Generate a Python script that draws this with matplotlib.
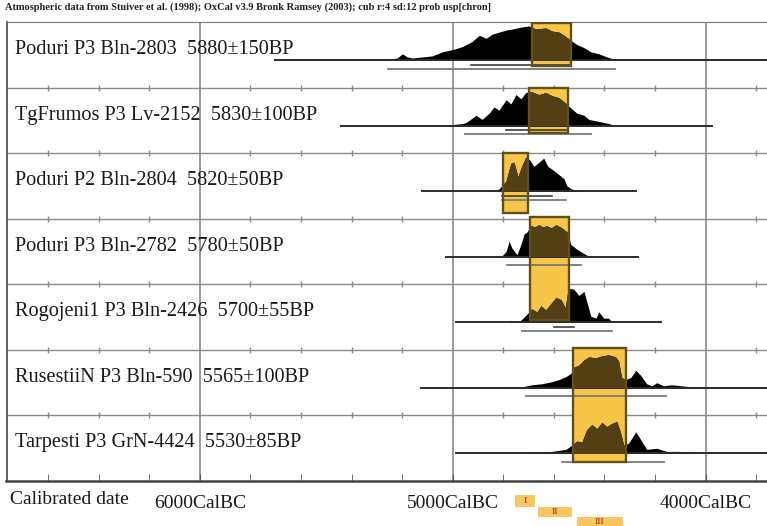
import matplotlib
matplotlib.use("Agg")
import matplotlib.pyplot as plt
from matplotlib.patches import Rectangle
from matplotlib.ticker import MultipleLocator

plt.rcParams['font.family'] = ['Liberation Serif', 'DejaVu Serif']

title = ("Atmospheric data from Stuiver et al. (1998); OxCal v3.9 Bronk Ramsey (2003); "
         "cub r:4 sd:12 prob usp[chron]")

labels = [
    "Poduri P3 Bln-2803  5880\u00b1150BP",
    "TgFrumos P3 Lv-2152  5830\u00b1100BP",
    "Poduri P2 Bln-2804  5820\u00b150BP",
    "Poduri P3 Bln-2782  5780\u00b150BP",
    "Rogojeni1 P3 Bln-2426  5700\u00b155BP",
    "RusestiiN P3 Bln-590  5565\u00b1100BP",
    "Tarpesti P3 GrN-4424  5530\u00b185BP",
]

# calibrated distributions, years BC and relative probability
yrs1 = [5302, 5250, 5220, 5199, 5180, 5160, 5120, 5081, 5041, 5002, 4962, 4923, 4895, 4868, 4844, 4817,
        4789, 4765, 4726, 4698, 4671, 4631, 4607, 4580, 4560, 4533, 4509, 4481, 4454, 4422, 4390, 4351]
p1 = [0, 1, 2, 6, 3, 2, 3, 4, 8, 10, 13, 18, 24, 21, 25, 27,
      29, 30, 32, 33, 30, 31, 28, 27, 24, 19, 15, 12, 8, 6, 3, 0]

yrs2 = [5200, 5190, 5081, 5002, 4960, 4947, 4908, 4884, 4856, 4837, 4817, 4789, 4770, 4750, 4730,
        4711, 4691, 4659, 4632, 4608, 4580, 4560, 4533, 4509, 4481, 4462, 4422, 4383, 4356]
p2 = [0, 1, 0.5, 1, 2, 3, 10, 6, 12, 18, 15, 25, 21, 30, 26,
      32, 33, 30, 32, 29, 27, 23, 17, 12, 10, 6, 4, 2, 0]

yrs3 = [4870, 4856, 4817, 4789, 4770, 4758, 4742, 4726, 4711, 4695, 4679, 4659, 4640, 4624, 4600,
        4580, 4560, 4548, 4529, 4501, 4481]
p3 = [0, 0.5, 2, 10, 27, 28, 14, 25, 33, 30, 24, 28, 32, 24, 20,
      16, 12, 5, 2, 0.5, 0]

yrs4 = [4809, 4789, 4777, 4765, 4746, 4730, 4718, 4706, 4691, 4675, 4659, 4644, 4628, 4610, 4592,
        4568, 4548, 4533, 4513, 4493, 4474, 4454]
p4 = [0, 5, 15, 8, 2, 12, 22, 24, 30, 29, 31, 29, 30, 28, 31,
      28, 24, 12, 8, 5, 2, 0]

yrs5 = [4780, 4770, 4760, 4740, 4726, 4706, 4687, 4667, 4651, 4632, 4612, 4592, 4572, 4555, 4545,
        4535, 4521, 4501, 4481, 4470, 4454, 4434, 4422, 4403, 4383, 4371]
p5 = [0, 2, 0, 0.5, 3, 8, 13, 10, 16, 12, 18, 24, 22, 14, 30,
      33, 32, 26, 30, 20, 6, 4, 10, 4, 4, 0]

yrs6 = [4810, 4726, 4687, 4647, 4608, 4580, 4552, 4533, 4521, 4501, 4481, 4462, 4434, 4410, 4383,
        4356, 4344, 4332, 4316, 4296, 4276, 4256, 4233, 4213, 4193, 4166, 4134, 4095, 4055, 4027]
p6 = [0.5, 1, 3, 4, 6, 8, 11, 14, 20, 22, 27, 30, 29, 31, 32,
      30, 26, 10, 8, 10, 17, 12, 4, 2, 5, 2, 3, 2, 1, 0]

yrs7 = [4700, 4687, 4608, 4552, 4529, 4509, 4489, 4470, 4450, 4430, 4410, 4391, 4371, 4351, 4336,
        4324, 4304, 4276, 4253, 4233, 4193, 4154, 4107, 4055, 4027]
p7 = [0, 1, 2, 4, 8, 12, 11, 23, 28, 24, 30, 26, 29, 31, 20,
      8, 10, 21, 12, 4, 5, 2, 2, 1, 0]

years = [yrs1, yrs2, yrs3, yrs4, yrs5, yrs6, yrs7]
probs = [p1, p2, p3, p4, p5, p6, p7]

# full extent lines and probability ranges (years BC)
line_from = [5704, 5440, 5120, 5026, 4986, 5124, 4986]
line_to = [3700, 3976, 4276, 4268, 4177, 3700, 3700]
range2_from = [5258, 4951, 4805, 4785, 4726, 4710, 4568]
range2_to = [4359, 4454, 4552, 4493, 4371, 4158, 4166]
range1_from = [4927, 4789, 4805, None, 4600, None, None]
range1_to = [4540, 4552, 4608, None, 4521, None, None]

# highlighted intervals (years BC) and the rows they cover
box_from = [4685, 4697, 4803, 4693, 4523]
box_to = [4534, 4546, 4701, 4542, 4313]
box_top = [6.98, 6.0, 5.0, 4.03, 2.03]
box_bottom = [6.33, 5.31, 4.09, 2.46, 0.29]

tick_labels = ["6000CalBC", "5000CalBC", "4000CalBC"]
tick_years = [6000, 5000, 4000]

fig = plt.figure(figsize=(7.67, 5.26), dpi=100)
ax = fig.add_axes([6.5 / 767, 1 - 481 / 526, 761 / 767, 459 / 526])
ax.set_xlim(6765, 3755)
ax.set_ylim(0, 7)

grey = '#8a8a8a'
brown_dark = '#523f14'
n = len(labels)
base_off = 0.42
scale = 0.52 / 33

for yv in tick_years:
    ax.axvline(yv, color=grey, lw=1.2, zorder=1)
minor = [y for y in range(6600, 3700, -200) if y not in tick_years]
for k in range(1, n):
    ax.axhline(k, color=grey, lw=1.0, zorder=1)
    ax.plot(minor, [k] * len(minor), '|', ms=5, color=grey, mew=1, zorder=1)

boxes = []
for b0, b1, bt, bb in zip(box_from, box_to, box_top, box_bottom):
    r = Rectangle((b1, bb), b0 - b1, bt - bb, facecolor='#f7c548', edgecolor='none', zorder=2)
    ax.add_patch(r)
    boxes.append(r)

for i in range(n):
    base = n - 1 - i + base_off
    ax.text(0.011, n - 1 - i + 0.58, labels[i], transform=ax.get_yaxis_transform(),
            fontsize=14.6, color='#1a1a1a', va='center', ha='left', zorder=6)
    top = [base + v * scale for v in probs[i]]
    ax.fill_between(years[i], base, top, color='black', lw=0, zorder=3)
    for r in boxes:
        dark = ax.fill_between(years[i], base, top, color=brown_dark, lw=0, zorder=4)
        dark.set_clip_path(r)
    ax.plot([line_from[i], line_to[i]], [base, base], color='#2b2b2b', lw=1.4, zorder=3)
    ax.plot([range2_from[i], range2_to[i]], [base - 0.13] * 2, color='#7a7a7a', lw=1.3, zorder=3)
    if range1_from[i] is not None:
        ax.plot([range1_from[i], range1_to[i]], [base - 0.07] * 2, color='#3c3c3c', lw=1.2, zorder=3)

for b0, b1, bt, bb in zip(box_from, box_to, box_top, box_bottom):
    ax.add_patch(Rectangle((b1, bb), b0 - b1, bt - bb, facecolor='none',
                           edgecolor='#62501c', lw=1.7, zorder=5))

ax.set_yticks([])
ax.set_xticks(tick_years)
ax.set_xticklabels(tick_labels, fontsize=14, color='#1a1a1a')
ax.xaxis.set_minor_locator(MultipleLocator(200))
ax.tick_params(axis='x', which='both', direction='in', length=5, color='#555555', pad=10)
ax.spines['right'].set_visible(False)
ax.spines['top'].set_color('#777777')
ax.spines['left'].set_color('#555555')
ax.spines['left'].set_linewidth(1.3)
ax.spines['bottom'].set_color('#444444')
ax.spines['bottom'].set_linewidth(1.8)

fig.text(5 / 767, 1 - 7 / 526, title, fontsize=7.5, fontweight='bold', color='#222222',
         va='center', ha='left')
fig.text(10 / 767, 1 - 500 / 526, "Calibrated date", fontsize=14, color='#1a1a1a',
         va='center', ha='left')

# small phase key below the axis
key_rects = [(515, 495, 20, 12, "I"), (538, 507, 34, 10, "II"), (577, 517, 46, 9, "III")]
for x0, y0, w, h, t in key_rects:
    fig.add_artist(Rectangle((x0 / 767, 1 - (y0 + h) / 526), w / 767, h / 526,
                             transform=fig.transFigure, facecolor='#f8c760', lw=0))
    fig.text((x0 + w / 2) / 767, 1 - (y0 + h / 2) / 526, t, fontsize=6, color='#d2451e',
             fontweight='bold', ha='center', va='center')

fig.savefig('out.png', dpi=100)
